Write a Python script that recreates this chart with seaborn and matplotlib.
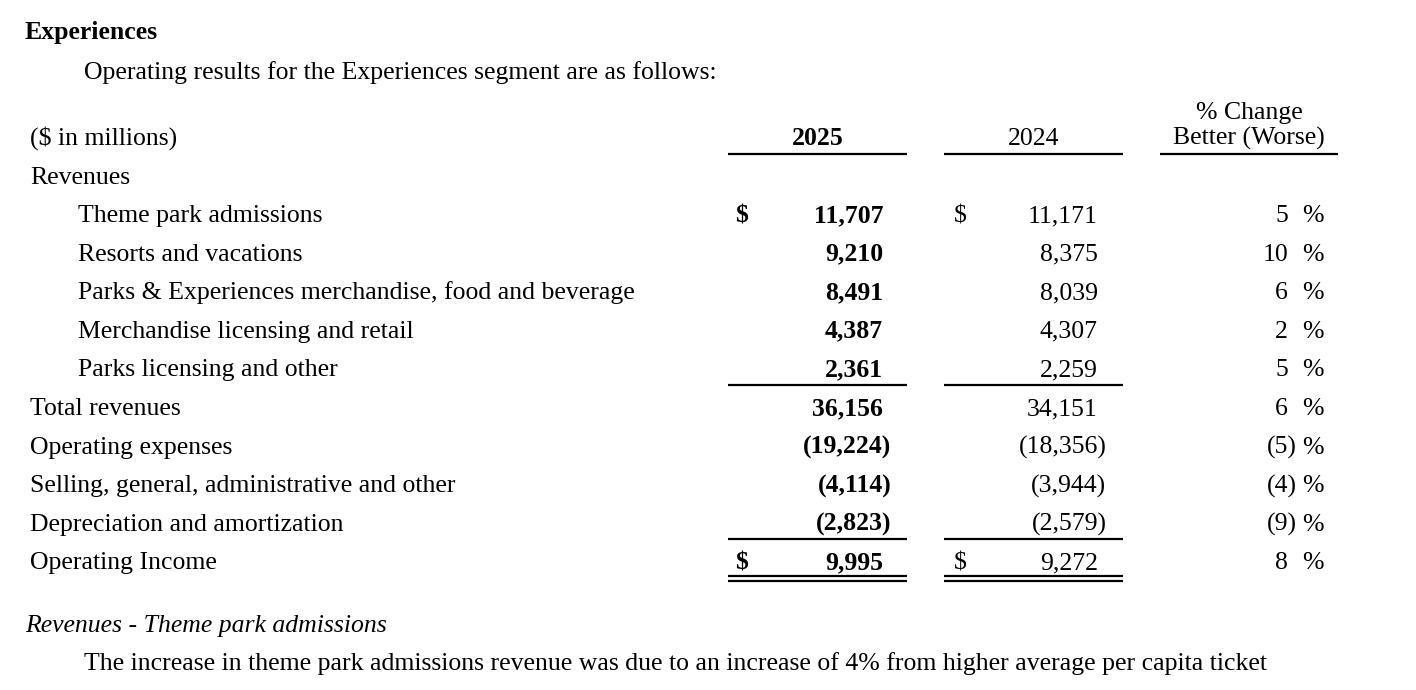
import matplotlib
matplotlib.use("Agg")
import matplotlib.pyplot as plt
import seaborn as sns

# ---- data ----
title = "Experiences"
intro = "Operating results for the Experiences segment are as follows:"
unit_label = "($ in millions)"
year_cur = "2025"
year_prev = "2024"
pct_header = ["% Change", "Better (Worse)"]
section_label = "Revenues"
row_labels = [
    "Theme park admissions",
    "Resorts and vacations",
    "Parks & Experiences merchandise, food and beverage",
    "Merchandise licensing and retail",
    "Parks licensing and other",
    "Total revenues",
    "Operating expenses",
    "Selling, general, administrative and other",
    "Depreciation and amortization",
    "Operating Income",
]
row_indent = [1, 1, 1, 1, 1, 0, 0, 0, 0, 0]
values_2025 = [11707, 9210, 8491, 4387, 2361, 36156, -19224, -4114, -2823, 9995]
values_2024 = [11171, 8375, 8039, 4307, 2259, 34151, -18356, -3944, -2579, 9272]
pct_change = [5, 10, 6, 2, 5, 6, -5, -4, -9, 8]
dollar_rows = [0, 9]
subheading = "Revenues - Theme park admissions"
body_text = ("The increase in theme park admissions revenue was due to an increase of 4% "
             "from higher average per capita ticket")

# ---- style ----
sns.set_theme(style="white")
plt.rcParams["font.family"] = ["Liberation Serif", "DejaVu Serif"]
FS = 18.5

fig = plt.figure(figsize=(14.16, 6.90), dpi=100)
ax = fig.add_axes([0, 0, 1, 1])
ax.set_xlim(0, 1416)
ax.set_ylim(690, 0)
ax.axis("off")
renderer = fig.canvas.get_renderer()

def txt(x, y, s, ha="left", weight="normal", style="normal", size=FS):
    return ax.text(x, y, s, ha=ha, va="baseline", fontsize=size, fontweight=weight,
                   fontstyle=style, color="black")

def paren_width(weight):
    t = txt(0, -100, ")", weight=weight)
    w = t.get_window_extent(renderer).width
    t.remove()
    return w

PW = {"bold": paren_width("bold"), "normal": paren_width("normal")}

def fmt_num(v):
    return f"{abs(v):,}"

# column geometry
c25 = (728, 907)
c24 = (944, 1123)
cp = (1160, 1338)
x_dollar25, x_num25 = 735, 883
x_dollar24, x_num24 = 954, 1098
x_pct = 1288
x_pctsign = 1302

txt(25, 39, title, weight="bold")
txt(84, 79, intro)

# header
txt(30, 145, unit_label)
txt(sum(c25) / 2, 145, year_cur, ha="center", weight="bold")
txt(sum(c24) / 2, 145, year_prev, ha="center")
txt(sum(cp) / 2, 119, pct_header[0], ha="center")
txt(sum(cp) / 2, 145, pct_header[1], ha="center")
for c in (c25, c24, cp):
    ax.plot(c, [154, 154], color="black", lw=1.6, solid_capstyle="butt")

txt(30, 184, section_label)

row_base = 222
row_step = 38.6
for i, lab in enumerate(row_labels):
    y = row_base + i * row_step
    txt(78 if row_indent[i] else 30, y, lab)
    for vals, xd, xn, w in ((values_2025, x_dollar25, x_num25, "bold"),
                            (values_2024, x_dollar24, x_num24, "normal")):
        v = vals[i]
        if i in dollar_rows:
            txt(xd, y, "$", weight=w)
        if v < 0:
            txt(xn + PW[w], y, "(" + fmt_num(v) + ")", ha="right", weight=w)
        else:
            txt(xn, y, fmt_num(v), ha="right", weight=w)
    p = pct_change[i]
    if p < 0:
        txt(x_pct + PW["normal"], y, f"({abs(p)})", ha="right")
    else:
        txt(x_pct, y, f"{p}", ha="right")
    txt(x_pctsign, y, "%")

# rules
for c in (c25, c24):
    ax.plot(c, [385, 385], color="black", lw=1.6, solid_capstyle="butt")
    ax.plot(c, [539, 539], color="black", lw=1.6, solid_capstyle="butt")
    ax.plot(c, [576, 576], color="black", lw=1.6, solid_capstyle="butt")
    ax.plot(c, [581, 581], color="black", lw=1.6, solid_capstyle="butt")

txt(25, 632, subheading, style="italic")
txt(84, 670, body_text)

fig.savefig("out.png", dpi=100, facecolor="white")
